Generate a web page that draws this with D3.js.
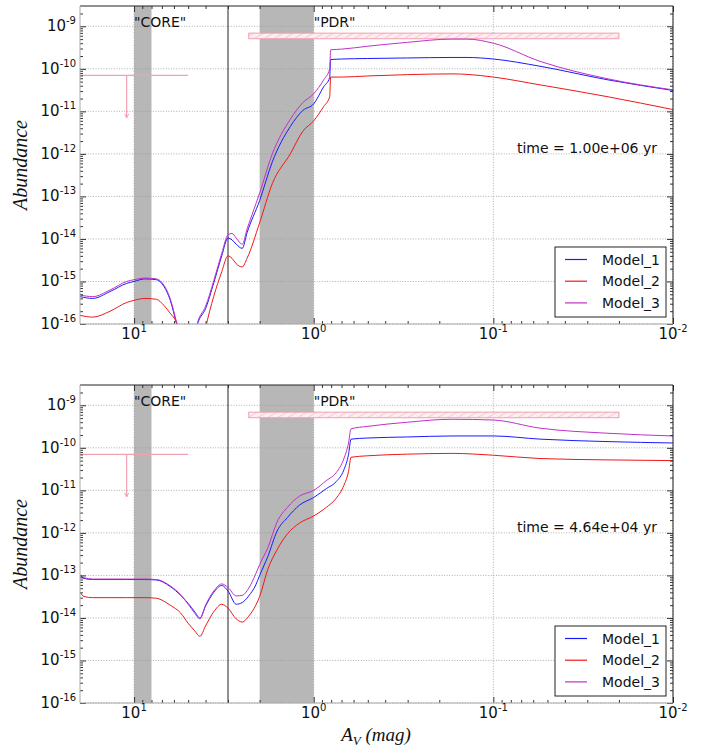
<!DOCTYPE html>
<html>
<head>
<meta charset="utf-8">
<script src="https://cdn.jsdelivr.net/npm/d3@7"></script>
<style>
  html, body { margin: 0; padding: 0; background: #fff; }
  svg { display: block; }
  text { font-family: "DejaVu Sans", sans-serif; fill: #111; }
</style>
</head>
<body>
<svg id="chart" width="716" height="749"></svg>
<script>
// Visual extinction grid (mag) and abundances, late time (1.00e+06 yr)
const avTop = [20, 17, 13.6, 11, 10, 8.7, 7.5, 6.8, 6.3, 5.8, 5.0, 4.4, 4.0, 3.6, 3.25, 3.0, 2.85, 2.7, 2.5, 2.35, 2.0, 1.7, 1.35, 1.15, 1.0, 0.88, 0.815, 0.805, 0.7, 0.5, 0.3, 0.17, 0.14, 0.1, 0.055, 0.023, 0.01];
const model1Top = [4.4e-16, 4.0e-16, 5.8e-16, 9e-16, 1.0e-15, 1.15e-15, 1.1e-15, 7.5e-16, 3.7e-16, 1.0e-16, 1e-17, 1.1e-16, 2.3e-16, 9.3e-16, 4e-15, 1.05e-14, 9.5e-15, 7.5e-15, 6e-15, 1.4e-14, 8e-14, 6.5e-13, 4.4e-12, 1.05e-11, 1.5e-11, 3.8e-11, 6.2e-11, 1.65e-10, 1.7e-10, 1.75e-10, 1.8e-10, 1.85e-10, 1.85e-10, 1.7e-10, 1.15e-10, 5.5e-11, 3.1e-11];
const model2Top = [1.6e-16, 1.45e-16, 2.0e-16, 3.2e-16, 3.6e-16, 4e-16, 3.8e-16, 2.7e-16, 1.8e-16, 1.1e-16, 1e-17, 1e-17, 8e-17, 4.5e-16, 1.7e-15, 4e-15, 3.5e-15, 2.6e-15, 2.2e-15, 3.5e-15, 2.4e-14, 2e-13, 1.0e-12, 3.4e-12, 6e-12, 1.3e-11, 2.2e-11, 6.4e-11, 6.4e-11, 6.8e-11, 7.3e-11, 7.6e-11, 7.4e-11, 6.4e-11, 4.2e-11, 2.2e-11, 1.1e-11];
const model3Top = [4.8e-16, 4.4e-16, 6.3e-16, 1.0e-15, 1.1e-15, 1.2e-15, 1.15e-15, 8e-16, 4e-16, 1.1e-16, 1e-17, 1.2e-16, 2.6e-16, 1.05e-15, 4.6e-15, 1.25e-14, 1.35e-14, 1.05e-14, 7.5e-15, 1.7e-14, 1.2e-13, 1.0e-12, 6.5e-12, 1.6e-11, 2.6e-11, 5.5e-11, 1e-10, 2.8e-10, 2.9e-10, 3.4e-10, 4.2e-10, 5e-10, 5e-10, 4e-10, 1.5e-10, 5.8e-11, 3.2e-11];

// Early time (4.64e+04 yr)
const avBottom = [20, 19, 17, 13.6, 11, 10, 8.7, 7.5, 6.3, 5.5, 5.0, 4.6, 4.3, 4.0, 3.6, 3.25, 3.0, 2.7, 2.5, 2.3, 2.1, 2.0, 1.8, 1.6, 1.4, 1.2, 1.0, 0.85, 0.75, 0.68, 0.64, 0.62, 0.5, 0.3, 0.17, 0.1, 0.055, 0.023, 0.01];
const model1Bottom = [1.0e-13, 8.5e-14, 8e-14, 8e-14, 8e-14, 8e-14, 8e-14, 7.8e-14, 5.5e-14, 3.4e-14, 2.2e-14, 1.4e-14, 1.0e-14, 1.9e-14, 4e-14, 5.8e-14, 4.3e-14, 2.1e-14, 2.3e-14, 3.3e-14, 6e-14, 1.0e-13, 2.8e-13, 1.1e-12, 2.3e-12, 4.5e-12, 6.8e-12, 1.1e-11, 1.6e-11, 3e-11, 7e-11, 1.6e-10, 1.7e-10, 1.8e-10, 1.9e-10, 1.9e-10, 1.6e-10, 1.4e-10, 1.3e-10];
const model2Bottom = [4e-14, 3.2e-14, 3e-14, 3e-14, 3e-14, 3e-14, 3e-14, 2.9e-14, 2e-14, 1.3e-14, 7.5e-15, 5e-15, 3.7e-15, 6.5e-15, 1.4e-14, 2.1e-14, 1.7e-14, 9.5e-15, 8e-15, 1.1e-14, 2e-14, 3.2e-14, 1.4e-13, 4e-13, 9.5e-13, 1.7e-12, 2.5e-12, 4e-12, 6.5e-12, 1.3e-11, 2.8e-11, 6e-11, 6.5e-11, 7.1e-11, 7.4e-11, 6.7e-11, 5.6e-11, 5.2e-11, 5e-11];
const model3Bottom = [1.05e-13, 8.8e-14, 8.2e-14, 8.2e-14, 8.2e-14, 8.2e-14, 8.2e-14, 8e-14, 5.7e-14, 3.5e-14, 2.1e-14, 1.3e-14, 9.5e-15, 2e-14, 4.3e-14, 6.3e-14, 5.2e-14, 3.3e-14, 3.4e-14, 5e-14, 1.1e-13, 1.8e-13, 4.5e-13, 1.8e-12, 4e-12, 7.3e-12, 1e-11, 1.7e-11, 2.6e-11, 5.5e-11, 1.3e-10, 2.8e-10, 3.2e-10, 4e-10, 4.7e-10, 4.5e-10, 2.9e-10, 2.2e-10, 1.9e-10];

const modelNames = ["Model_1", "Model_2", "Model_3"];
const modelColors = ["#1a1aff", "#f01818", "#c030c8"];
const timeLabels = ["time = 1.00e+06 yr", "time = 4.64e+04 yr"];

// Regions, reference line and observational constraints
const coreSpan = [10, 8];
const pdrSpan = [2, 1];
const dividerAv = 3;
const regionLabels = [{ text: "\"CORE\"", av: 10 }, { text: "\"PDR\"", av: 1 }];
const upperLimit = { avFrom: 20, avTo: 5, value: 7e-11, arrowAv: 11, arrowTo: 7e-12 };
const obsBand = { avFrom: 2.3, avTo: 0.02, low: 5.1e-10, high: 6.9e-10 };

const xDomain = [20, 0.01];
const yDomain = [1e-16, 3e-9];
const xMajor = [10, 1, 0.1, 0.01];
const yMajor = [1e-16, 1e-15, 1e-14, 1e-13, 1e-12, 1e-11, 1e-10, 1e-9];

const svg = d3.select("#chart");
const left = 80, right = 673;
const panels = [
  { top: 6, bottom: 324, av: avTop, series: [model1Top, model2Top, model3Top], time: timeLabels[0] },
  { top: 385, bottom: 703, av: avBottom, series: [model1Bottom, model2Bottom, model3Bottom], time: timeLabels[1] }
];

const x = d3.scaleLog().domain(xDomain).range([left, right]);

// minor tick values
const xMinor = [];
[-2, -1, 0].forEach(k => { for (let m = 2; m <= 9; m++) xMinor.push(m * Math.pow(10, k)); });
const yMinor = [];
for (let k = -16; k <= -10; k++) for (let m = 2; m <= 9; m++) yMinor.push(m * Math.pow(10, k));
yMinor.push(2e-9);

const defs = svg.append("defs");
const hatch = defs.append("pattern").attr("id", "hatch").attr("patternUnits", "userSpaceOnUse")
  .attr("width", 5).attr("height", 5).attr("patternTransform", "rotate(60)");
hatch.append("rect").attr("width", 5).attr("height", 5).attr("fill", "#fdeef1");
hatch.append("line").attr("x1", 0).attr("y1", 0).attr("x2", 0).attr("y2", 5)
  .attr("stroke", "#f2a6b6").attr("stroke-width", 1);

function expLabel(sel, exp) {
  sel.append("tspan").text("10");
  sel.append("tspan").attr("dy", -7).attr("font-size", 10).text(exp);
}

panels.forEach((p, i) => {
  const y = d3.scaleLog().domain(yDomain).range([p.bottom, p.top]);
  const g = svg.append("g");
  const clipId = "clip" + i;
  defs.append("clipPath").attr("id", clipId).append("rect")
    .attr("x", left).attr("y", p.top).attr("width", right - left).attr("height", p.bottom - p.top);

  // shaded regions
  [coreSpan, pdrSpan].forEach(s => {
    g.append("rect").attr("x", x(s[0])).attr("y", p.top)
      .attr("width", x(s[1]) - x(s[0])).attr("height", p.bottom - p.top)
      .attr("fill", "#b7b7b7");
  });

  // grid
  const grid = g.append("g").attr("stroke", "#9a9a9a").attr("stroke-width", 0.8).attr("stroke-dasharray", "1,1.6");
  yMajor.forEach(v => grid.append("line").attr("x1", left).attr("x2", right).attr("y1", y(v)).attr("y2", y(v)));
  xMajor.forEach(v => grid.append("line").attr("x1", x(v)).attr("x2", x(v)).attr("y1", p.top).attr("y2", p.bottom));

  // divider line
  g.append("line").attr("x1", x(dividerAv)).attr("x2", x(dividerAv))
    .attr("y1", p.top).attr("y2", p.bottom).attr("stroke", "#222").attr("stroke-width", 1);

  // observational constraints
  const pink = "#f2a0b2";
  g.append("rect").attr("x", x(obsBand.avFrom)).attr("y", y(obsBand.high))
    .attr("width", x(obsBand.avTo) - x(obsBand.avFrom)).attr("height", y(obsBand.low) - y(obsBand.high))
    .attr("fill", "url(#hatch)").attr("stroke", pink).attr("stroke-width", 1);
  g.append("line").attr("x1", x(upperLimit.avFrom)).attr("x2", x(upperLimit.avTo))
    .attr("y1", y(upperLimit.value)).attr("y2", y(upperLimit.value)).attr("stroke", pink).attr("stroke-width", 1.2);
  const ax = x(upperLimit.arrowAv), ay = y(upperLimit.arrowTo);
  g.append("line").attr("x1", ax).attr("x2", ax).attr("y1", y(upperLimit.value)).attr("y2", ay)
    .attr("stroke", pink).attr("stroke-width", 1.2);
  g.append("path").attr("d", `M${ax - 2},${ay - 4}L${ax},${ay}L${ax + 2},${ay - 4}`)
    .attr("fill", "none").attr("stroke", pink).attr("stroke-width", 1);

  // model curves
  const line = d3.line().x(d => x(d[0])).y(d => y(d[1])).curve(d3.curveMonotoneX);
  const curves = g.append("g").attr("clip-path", `url(#${clipId})`);
  p.series.forEach((vals, k) => {
    curves.append("path").datum(p.av.map((a, j) => [a, vals[j]]))
      .attr("d", line).attr("fill", "none").attr("stroke", modelColors[k]).attr("stroke-width", 1);
  });

  // region labels
  regionLabels.forEach(r => {
    g.append("text").attr("x", x(r.av)).attr("y", p.top + 21).attr("font-size", 14).text(r.text);
  });

  // time annotation
  g.append("text").attr("x", 657).attr("y", y(1e-12) - 1).attr("text-anchor", "end")
    .attr("font-size", 14).text(p.time);

  // axes: ticks pointing inward on all four sides
  const tickCol = "#333";
  const axes = [
    { gen: d3.axisBottom(x), t: `translate(0,${p.bottom})`, major: xMajor, minor: xMinor },
    { gen: d3.axisTop(x), t: `translate(0,${p.top})`, major: xMajor, minor: xMinor },
    { gen: d3.axisLeft(y), t: `translate(${left},0)`, major: yMajor, minor: yMinor },
    { gen: d3.axisRight(y), t: `translate(${right},0)`, major: yMajor, minor: yMinor }
  ];
  axes.forEach(a => {
    [[a.major, 6], [a.minor, 3]].forEach(([vals, len]) => {
      const ag = g.append("g").attr("transform", a.t)
        .call(a.gen.tickValues(vals).tickSize(-len).tickSizeOuter(0).tickFormat(""));
      ag.select(".domain").remove();
      ag.selectAll(".tick line").attr("stroke", tickCol).attr("stroke-width", 1);
    });
  });

  // frame
  g.append("line").attr("x1", left).attr("x2", right).attr("y1", p.top).attr("y2", p.top).attr("stroke", "#222");
  g.append("line").attr("x1", right).attr("x2", right).attr("y1", p.top).attr("y2", p.bottom).attr("stroke", "#222");
  g.append("line").attr("x1", left).attr("x2", left).attr("y1", p.top).attr("y2", p.bottom).attr("stroke", "#aaa");
  g.append("line").attr("x1", left).attr("x2", right).attr("y1", p.bottom).attr("y2", p.bottom).attr("stroke", "#aaa");

  // tick labels
  xMajor.forEach(v => {
    const t = g.append("text").attr("x", x(v)).attr("y", p.bottom + 15).attr("text-anchor", "middle").attr("font-size", 15);
    expLabel(t, String(Math.round(Math.log10(v))));
  });
  yMajor.forEach(v => {
    const t = g.append("text").attr("x", 76).attr("y", y(v) + 5).attr("text-anchor", "end").attr("font-size", 15);
    expLabel(t, String(Math.round(Math.log10(v))));
  });

  // y label
  const cy = (p.top + p.bottom) / 2;
  g.append("text").attr("transform", `translate(27,${cy}) rotate(-90)`).attr("text-anchor", "middle")
    .style("font-family", "'Liberation Serif', serif").style("font-style", "italic").attr("font-size", 20)
    .text("Abundance");

  // legend
  const lx = 555, lw = 111, lh = 70, ly = p.bottom - 7 - lh;
  const lg = g.append("g");
  lg.append("rect").attr("x", lx).attr("y", ly).attr("width", lw).attr("height", lh)
    .attr("fill", "#fff").attr("stroke", "#222").attr("stroke-width", 1);
  modelNames.forEach((name, k) => {
    const ry = ly + 12.5 + k * 21.7;
    lg.append("line").attr("x1", lx + 10).attr("x2", lx + 32).attr("y1", ry).attr("y2", ry)
      .attr("stroke", modelColors[k]).attr("stroke-width", 1.2);
    lg.append("text").attr("x", lx + 47).attr("y", ry + 5).attr("font-size", 14).text(name);
  });
});

// x label
const xl = svg.append("text").attr("x", 376).attr("y", 741).attr("text-anchor", "middle")
  .style("font-family", "'Liberation Serif', serif").style("font-style", "italic").attr("font-size", 19);
xl.append("tspan").text("A");
xl.append("tspan").attr("dy", 4).attr("font-size", 13).text("V");
xl.append("tspan").attr("dy", -4).text(" (mag)");
</script>
</body>
</html>
